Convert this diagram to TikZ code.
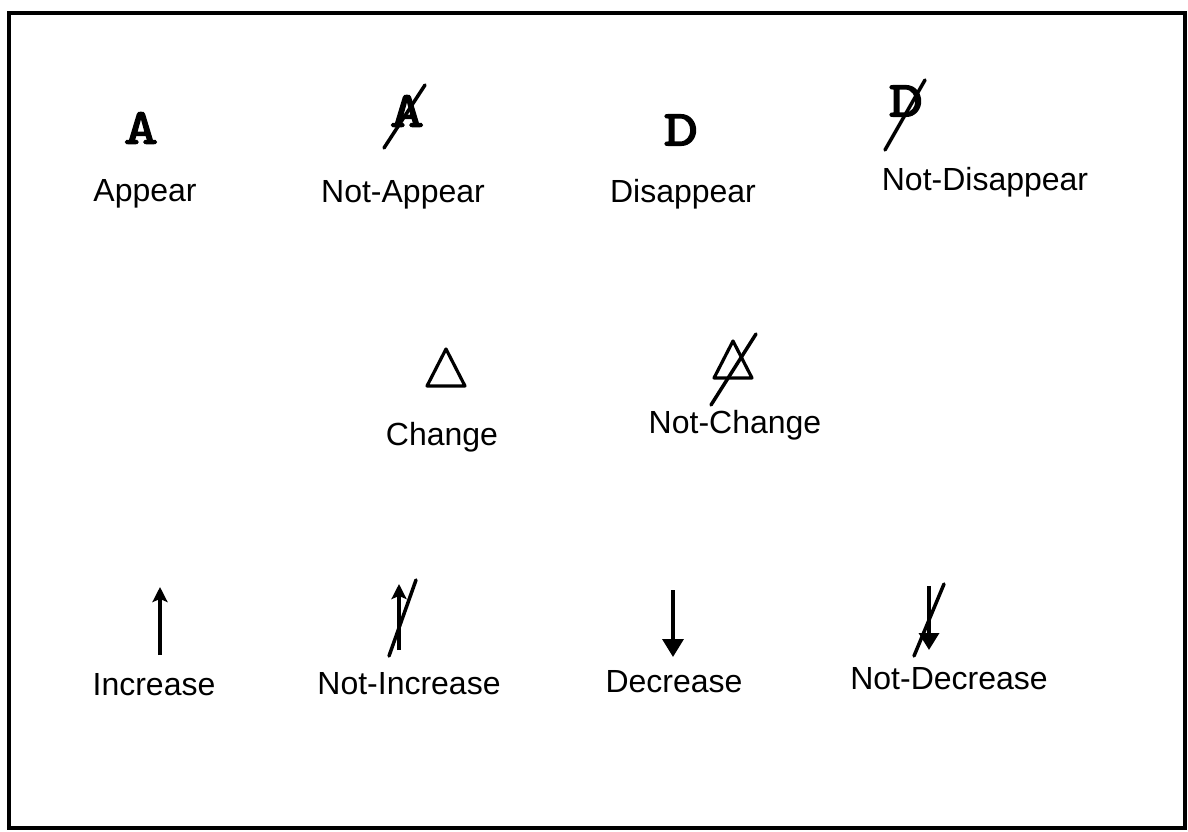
\documentclass[tikz,border=0pt]{standalone}
\usepackage{fontspec}
\setmainfont{Liberation Sans}
\newfontfamily\symfont{lmmono10-regular}[Extension=.otf, FakeBold=3, FakeStretch=1.3]
\usetikzlibrary{arrows.meta}
\begin{document}
\begin{tikzpicture}[x=1pt,y=-1pt,
  lbl/.style={font=\fontsize{32}{38}\selectfont, inner sep=0pt, anchor=center},
  sym/.style={font=\symfont\fontsize{50}{54}\selectfont, inner sep=0pt, anchor=center},
  slash/.style={line width=3.5pt, line cap=round},
  shaft/.style={line width=3.5pt},
  tri/.style={line width=3.2pt, line join=round}]
\useasboundingbox (0,0) rectangle (1188,832);
\draw[line width=3.5pt] (9,13) rectangle (1185,828);

% row 1
\node[sym] (sA) at (141,128) {A};
\node[sym] (sNA) at (407,111) {A};
\draw[slash] ([shift={(-23,37)}]sNA.center) -- ([shift={(18,-26)}]sNA.center);
\node[sym] (sD) at (681,130) {D};
\node[sym] (sND) at (906,101) {D};
\draw[slash] ([shift={(-21,49)}]sND.center) -- ([shift={(19,-21)}]sND.center);

\node[lbl] (lA) at (145,194) {Appear};
\node[lbl] (lNA) at (403,195) {Not-Appear};
\node[lbl] (lD) at (683,194) {Disappear};
\node[lbl] (lND) at (985,182) {Not-Disappear};

% row 2
\coordinate (tC) at (446,368);
\draw[tri] ([shift={(0,-19)}]tC) -- ([shift={(19,18)}]tC) -- ([shift={(-19,18)}]tC) -- cycle;
\coordinate (tNC) at (733,360);
\draw[tri] ([shift={(0,-19)}]tNC) -- ([shift={(19,18)}]tNC) -- ([shift={(-19,18)}]tNC) -- cycle;
\draw[slash] ([shift={(-22,45)}]tNC) -- ([shift={(23,-26)}]tNC);

\node[lbl] (lC) at (442,437) {Change};
\node[lbl] (lNC) at (735,425) {Not-Change};

% row 3
\coordinate (iB) at (160,655);
\coordinate (iT) at (160,587);
\draw[shaft,-{Stealth[length=15pt,width=15pt,inset=3pt]}] (iB) -- (iT);
\coordinate (niB) at (399,650);
\coordinate (niT) at (399,584);
\draw[shaft,-{Stealth[length=15pt,width=15pt,inset=3pt]}] (niB) -- (niT);
\draw[slash] ([shift={(-10,6)}]niB) -- ([shift={(17,-4)}]niT);

\coordinate (dT) at (673,590);
\coordinate (dB) at (673,657);
\draw[shaft,-{Triangle[length=18pt,width=21pt]}] (dT) -- (dB);
\coordinate (ndT) at (929,586);
\coordinate (ndB) at (929,650);
\draw[shaft,-{Triangle[length=17pt,width=20pt]}] (ndT) -- (ndB);
\draw[slash] ([shift={(-15,70)}]ndT) -- ([shift={(15,-2)}]ndT);

\node[lbl] (lI) at (154,685) {Increase};
\node[lbl] (lNI) at (409,684) {Not-Increase};
\node[lbl] (lDe) at (674,682) {Decrease};
\node[lbl] (lND2) at (949,679) {Not-Decrease};
\end{tikzpicture}
\end{document}
